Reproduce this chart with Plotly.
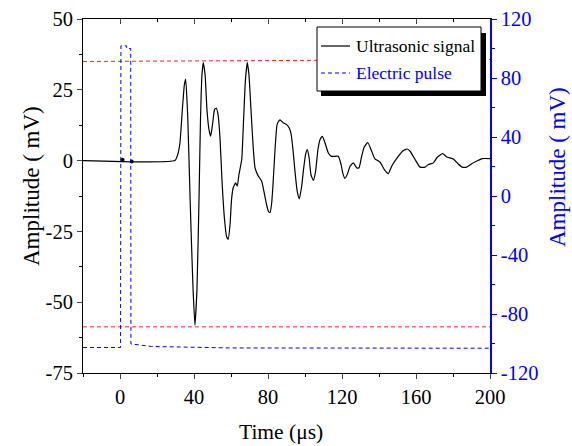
import plotly.graph_objects as go

# Ultrasonic signal (time in microseconds, amplitude in mV, left axis)
sig_t = [-20, 29.7, 31.2, 32.4, 33.7, 34.8, 35.5, 36.6, 37.6, 38.4, 39.5, 40.5, 41.6, 42.7,
         43.5, 44.3, 45.0, 46.0, 47.0, 48.1, 49.0, 50.0, 51.1, 52.1, 53.0, 54.1, 55.1,
         56.5, 57.6, 58.5, 59.5, 60.3, 61.2, 62.5, 63.4, 64.3, 65.8, 66.8, 67.8, 68.8,
         69.7, 70.8, 71.9, 73.0, 74.6, 76.6, 77.8, 79.2, 80.3, 81.1, 81.9, 82.7, 83.8,
         84.9, 86.0, 86.5, 88.1, 90.1, 91.4, 92.4, 93.5, 94.6, 95.8, 96.9, 98.1, 99.2,
         100.3, 101.2, 102.2, 103.2, 104.5, 105.7, 107.0, 108.1, 109.4, 110.8, 112.6,
         114.4, 118.0, 119.5, 120.5, 121.6, 123.0, 124.3, 126.1, 128.0, 129.2, 130.5,
         131.9, 133.9, 135.7, 137.8, 140.5, 142.9, 145.0, 147.0, 150.4, 153.0, 155.3,
         156.8, 159.5, 162.2, 164.9, 166.7, 169.4, 171.4, 174.4, 176.6, 180.2, 182.7,
         185.0, 187.4, 190.1, 193.7, 195.7, 200]
sig_v = [0, 0, 2.1, 6.2, 18.0, 26.8, 28.8, 15.6, -6.7, -24.3, -45.4, -58.1, -45.4, -13.7,
         14.4, 30.3, 34.6, 30.3, 18.0, 10.9, 8.6, 12.7, 18.0, 18.5, 16.2, 7.4, -6.7,
         -20.8, -26.8, -27.8, -22.5, -13.7, -9.6, -7.9, -9.0, -4.9, 0.4, 14.4, 28.5, 34.6,
         30.3, 18.0, 5.6, -2.6, -5.3, -7.3, -10.9, -15.5, -18.0, -18.3, -15.5, -8.5, 3.9,
         12.7, 14.1, 14.4, 13.4, 12.7, 11.6, 9.7, 3.9, -3.9, -10.9, -13.5, -9.5, -3.2,
         2.1, 3.9, 1.1, -4.9, -7.0, -3.9, 3.9, 7.4, 8.6, 6.3, 2.7,
         1.5, 1.5, -1.4, -4.6, -6.3, -4.6, -2.1, -0.8, -2.6, -2.5, 1.1,
         4.6, 6.4, 3.9, 0.6, -0.5, -3.2, -4.6, -1.8, 1.5, 3.5, 4.1,
         3.3, 0.4, -2.3, -2.3, -1.4, -0.8, 1.1, 2.5, 1.3, 0.6, -1.1,
         -2.3, -2.3, -1.1, 0.1, 0.7, 0.7]

# small spikes on the baseline
dot_t = [1.4, 6.3]
dot_v = [0.3, -0.3]

# Electric pulse (right axis, mV)
pul_t = [-20, 0.3, 0.5, 3.6, 3.6, 5.8, 5.9, 17, 60, 200]
pul_v = [-102.7, -102.7, 101.8, 101.8, 100.0, 100.0, -100.3, -102.0, -103.0, -103.2]

# Reference levels (dashed red)
ref_t = [-20, 200]
ref_hi = [35.0, 35.7]
ref_lo = [-58.7, -58.7]

x_ticks = [0, 40, 80, 120, 160, 200]
x_labels = ["0", "40", "80", "120", "160", "200"]
y_ticks = [-75, -50, -25, 0, 25, 50]
y_labels = ["-75", "-50", "-25", "0", "25", "50"]
y2_ticks = [-120, -80, -40, 0, 40, 80, 120]
y2_labels = ["-120", "-80", "-40", "0", "40", "80", "120"]

series_names = ["Ultrasonic signal", "Electric pulse"]

FONT = "Liberation Serif"
W, H = 572, 446
L, R, T, B = 83, 82, 19, 73
PW, PH = W - L - R, H - T - B


def px(xp):
    return (xp - L) / PW


def py(yp):
    return (H - B - yp) / PH


fig = go.Figure()
fig.add_trace(go.Scatter(x=ref_t, y=ref_hi, mode="lines", showlegend=False,
                         line=dict(color="#ff2020", width=1, dash="4px,3px")))
fig.add_trace(go.Scatter(x=ref_t, y=ref_lo, mode="lines", showlegend=False,
                         line=dict(color="#ff2020", width=1, dash="4px,3px")))
fig.add_trace(go.Scatter(x=sig_t, y=sig_v, mode="lines", name=series_names[0], showlegend=False,
                         line=dict(color="black", width=1.2, shape="spline", smoothing=0.45)))
fig.add_trace(go.Scatter(x=dot_t, y=dot_v, mode="markers", showlegend=False,
                         marker=dict(color="black", size=4)))
fig.add_trace(go.Scatter(x=pul_t, y=pul_v, mode="lines", yaxis="y2", name=series_names[1],
                         showlegend=False, line=dict(color="blue", width=1, dash="4px,3px")))

# top mirror axis carrier (invisible)
fig.add_trace(go.Scatter(x=[-20], y=[0], xaxis="x2", mode="markers", showlegend=False,
                         marker=dict(opacity=0), hoverinfo="skip"))

# hand-drawn legend (box with shadow, line samples, labels)
shapes = [
    dict(type="rect", xref="paper", yref="paper", x0=px(321), x1=px(486), y0=py(96), y1=py(33),
         fillcolor="black", line=dict(width=0), layer="above"),
    dict(type="rect", xref="paper", yref="paper", x0=px(317), x1=px(481), y0=py(91), y1=py(27),
         fillcolor="white", line=dict(color="black", width=1), layer="above"),
    dict(type="line", xref="paper", yref="paper", x0=px(321), x1=px(350), y0=py(46), y1=py(46),
         line=dict(color="black", width=1.2), layer="above"),
    dict(type="line", xref="paper", yref="paper", x0=px(321), x1=px(350), y0=py(73), y1=py(73),
         line=dict(color="blue", width=1, dash="4px,3px"), layer="above"),
]
annotations = [
    dict(text=series_names[0], x=px(354), y=py(46), xref="paper", yref="paper",
         xanchor="left", yanchor="middle", showarrow=False,
         font=dict(family=FONT, size=17.5, color="black")),
    dict(text=series_names[1], x=px(354), y=py(73), xref="paper", yref="paper",
         xanchor="left", yanchor="middle", showarrow=False,
         font=dict(family=FONT, size=17.5, color="blue")),
    dict(text="Amplitude ( mV)", x=px(31), y=py(186), xref="paper", yref="paper",
         xanchor="center", yanchor="middle", textangle=-90, showarrow=False,
         font=dict(family=FONT, size=23, color="black")),
    dict(text="Amplitude ( mV)", x=px(557), y=py(167), xref="paper", yref="paper",
         xanchor="center", yanchor="middle", textangle=-90, showarrow=False,
         font=dict(family=FONT, size=23, color="blue")),
    dict(text="Time (μs)", x=px(281), y=py(432), xref="paper", yref="paper",
         xanchor="center", yanchor="middle", showarrow=False,
         font=dict(family=FONT, size=21.5, color="black")),
]

fig.update_layout(
    width=W, height=H,
    margin=dict(l=L, r=R, t=T, b=B, autoexpand=False),
    plot_bgcolor="white", paper_bgcolor="white",
    font=dict(family=FONT, size=20.5, color="black"),
    showlegend=False,
    xaxis=dict(range=[-20, 200], tickvals=x_ticks, ticktext=x_labels, ticks="outside", ticklen=5,
               showline=True, linecolor="black", linewidth=1, showgrid=False, zeroline=False,
               automargin=False,
               minor=dict(dtick=20, tick0=0, ticks="outside", ticklen=3, tickcolor="black")),
    xaxis2=dict(overlaying="x", side="top", matches="x", range=[-20, 200], tickvals=x_ticks,
                ticks="inside", ticklen=5, showticklabels=False, showline=True,
                linecolor="black", linewidth=1, showgrid=False, zeroline=False, automargin=False,
                minor=dict(dtick=20, tick0=0, ticks="inside", ticklen=3, tickcolor="black")),
    yaxis=dict(range=[-75, 50], tickvals=y_ticks, ticktext=y_labels, ticks="outside", ticklen=5,
               showline=True, linecolor="black", linewidth=1, showgrid=False, zeroline=False,
               automargin=False,
               minor=dict(dtick=12.5, tick0=0, ticks="outside", ticklen=3, tickcolor="black")),
    yaxis2=dict(overlaying="y", side="right", range=[-120, 120], tickvals=y2_ticks,
                ticktext=y2_labels,
                ticks="outside", ticklen=5, showline=True, linecolor="blue", linewidth=1.5,
                tickcolor="blue", tickfont=dict(color="blue"), showgrid=False, zeroline=False,
                automargin=False,
                minor=dict(dtick=20, tick0=0, ticks="outside", ticklen=3, tickcolor="blue")),
    shapes=shapes,
    annotations=annotations,
)

fig.write_html(
    "out.html",
    config={"displayModeBar": False},
    post_script="document.body.style.margin='0';document.body.style.padding='0';"
                "document.body.style.overflow='hidden';",
)
